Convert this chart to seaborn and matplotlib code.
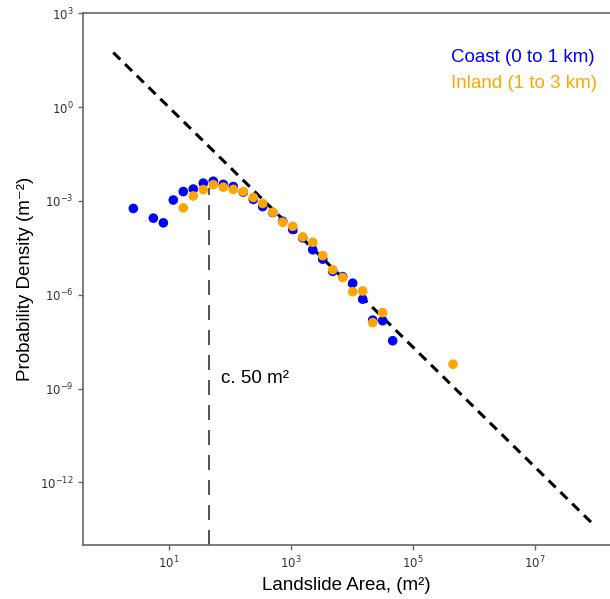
import numpy as np
import pandas as pd
import matplotlib
matplotlib.use("Agg")
import matplotlib.pyplot as plt
import seaborn as sns

# ---------------- data (log10 values) ----------------
coast_label = "Coast (0 to 1 km)"
inland_label = "Inland (1 to 3 km)"

coast_log_area = [0.415, 0.743, 0.907, 1.070, 1.234, 1.398, 1.562, 1.726, 1.890,
                  2.054, 2.218, 2.382, 2.536, 2.700, 2.864, 3.028, 3.192, 3.356,
                  3.520, 3.684, 3.848, 4.011, 4.175, 4.339, 4.503, 4.667]
coast_log_dens = [-3.24, -3.55, -3.70, -2.97, -2.70, -2.62, -2.43, -2.37, -2.47,
                  -2.54, -2.72, -2.95, -3.18, -3.37, -3.65, -3.91, -4.18, -4.56,
                  -4.86, -5.25, -5.42, -5.63, -6.14, -6.81, -6.83, -7.47]

inland_log_area = [1.234, 1.398, 1.562, 1.726, 1.890, 2.054, 2.218, 2.382, 2.536,
                   2.700, 2.864, 3.028, 3.192, 3.356, 3.520, 3.684, 3.848, 4.011,
                   4.175, 4.339, 4.503, 5.656]
inland_log_dens = [-3.22, -2.84, -2.64, -2.48, -2.56, -2.63, -2.70, -2.89, -3.08,
                   -3.36, -3.68, -3.81, -4.15, -4.32, -4.75, -5.20, -5.45, -5.90,
                   -5.88, -6.89, -6.57, -8.22]

# power-law fit  p = c * A^(-beta)
fit_c = 10 ** 1.91
fit_beta = 1.917
fit_x = [1.22, 8.5e7]

rollover_area = 45
rollover_top = 10 ** -2.6

# ---------------- build dataframe ----------------
df = pd.concat([
    pd.DataFrame({"area": 10 ** np.array(coast_log_area),
                  "density": 10 ** np.array(coast_log_dens),
                  "zone": coast_label}),
    pd.DataFrame({"area": 10 ** np.array(inland_log_area),
                  "density": 10 ** np.array(inland_log_dens),
                  "zone": inland_label}),
])

palette = {coast_label: "blue", inland_label: "orange"}
label_font = ["Liberation Sans", "DejaVu Sans"]
fs = 13.5

fig = plt.figure(figsize=(6.10, 5.99), dpi=100)
ax = fig.add_axes([0.1366, 0.0902, 0.8634, 0.8876])

sns.scatterplot(data=df, x="area", y="density", hue="zone", palette=palette,
                s=48, linewidth=0, ax=ax, zorder=3)

# fitted line
fx = np.array(fit_x)
ax.plot(fx, fit_c * fx ** (-fit_beta), color="black", lw=2.2,
        dashes=(3.2, 2.2), zorder=2)

# rollover marker
ax.vlines(rollover_area, 1e-14, rollover_top, color="#333333", lw=1.2,
          linestyles=(0, (9, 6)), zorder=1)
ax.text(70, 10 ** -8.67, "c. 50 m²", fontsize=fs, va="center",
        ha="left", family=label_font)

ax.set_xscale("log")
ax.set_yscale("log")
ax.set_xlim(10 ** -0.405, 10 ** 8.23)
ax.set_ylim(1e-14, 1e3)
ax.set_xticks([1e1, 1e3, 1e5, 1e7])
ax.set_yticks([1e-12, 1e-9, 1e-6, 1e-3, 1e0, 1e3])
ax.minorticks_off()

ax.set_xlabel("Landslide Area, (m²)", fontsize=fs,
              family=label_font, labelpad=4)
ax.set_ylabel("Probability Density (m⁻²)", fontsize=fs,
              family=label_font, labelpad=4)

for side in ["left", "bottom", "top"]:
    ax.spines[side].set_color("#666666")
    ax.spines[side].set_linewidth(1.2)
ax.spines["right"].set_visible(False)
ax.tick_params(axis="both", colors="#666666", labelcolor="#333333",
               labelsize=8.5, length=3.5, width=1)

# legend: coloured text only
leg = ax.legend(frameon=False, loc="upper right", handlelength=0,
                handletextpad=0, bbox_to_anchor=(1.008, 0.965),
                prop={"family": label_font, "size": fs}, labelspacing=0.5)
for h in leg.legend_handles:
    h.set_visible(False)
for t in leg.get_texts():
    t.set_color(palette[t.get_text()])

fig.savefig("out.png", dpi=100)
